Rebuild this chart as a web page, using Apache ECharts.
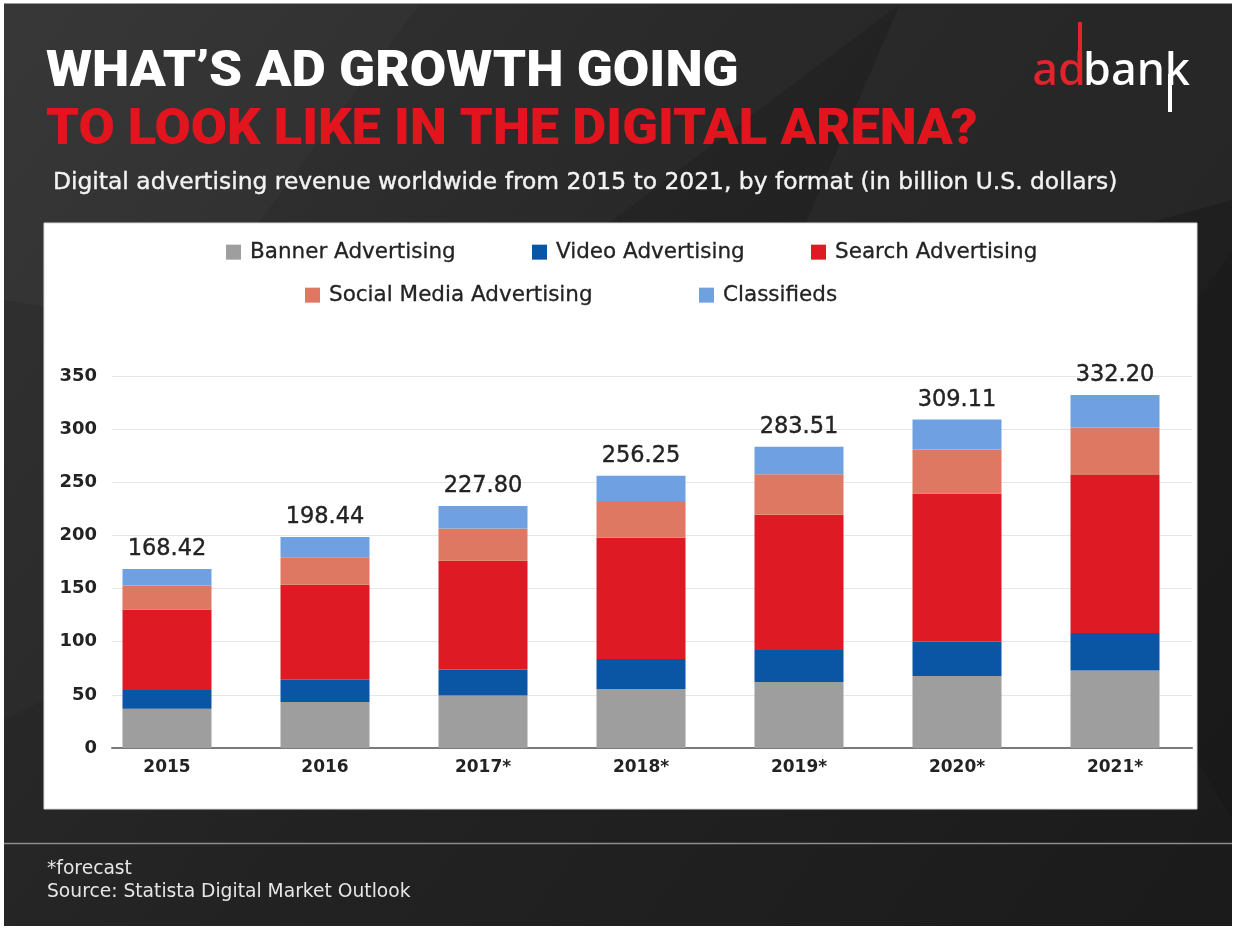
<!DOCTYPE html>
<html>
<head>
<meta charset="utf-8">
<script src="https://cdn.jsdelivr.net/npm/echarts@6/dist/echarts.min.js"></script>
<style>
  html, body { margin: 0; padding: 0; background: #ffffff; }
  #chart { position: absolute; left: 0; top: 0; width: 1236px; height: 928px; }
</style>
</head>
<body>
<div id="chart"></div>
<script>
// Digital advertising revenue worldwide by format, billion U.S. dollars
const years = ['2015', '2016', '2017*', '2018*', '2019*', '2020*', '2021*'];
const banner      = [37.00, 43.20, 49.50, 55.40, 62.00, 67.80, 72.90];
const video       = [17.50, 20.90, 24.30, 28.30, 30.20, 32.50, 35.30];
const search      = [75.90, 89.40, 102.40, 114.20, 127.30, 139.20, 148.70];
const social      = [22.42, 26.00, 30.30, 34.60, 38.00, 41.30, 44.70];
const classifieds = [15.60, 18.94, 21.30, 23.75, 26.01, 28.31, 30.60];
const totals      = [168.42, 198.44, 227.80, 256.25, 283.51, 309.11, 332.20];

const seriesNames = ['Banner Advertising', 'Video Advertising', 'Search Advertising',
                     'Social Media Advertising', 'Classifieds'];
const seriesColors = ['#9e9e9e', '#0b55a5', '#de1b25', '#df7862', '#6fa1e2'];
const seriesData = [banner, video, search, social, classifieds];

const yMin = 0, yMax = 350, yStep = 50;

const HEAD = "Roboto, sans-serif";
const BODY = "'DejaVu Sans', 'Noto Sans', sans-serif";
const INK = '#232323';

const chart = echarts.init(document.getElementById('chart'), null, { renderer: 'canvas' });

// one legend per entry so every swatch sits at its own spot
const legendSpots = [
  { left: 226, top: 241 }, { left: 532, top: 241 }, { left: 811, top: 241 },
  { left: 305, top: 284 }, { left: 699, top: 284 }
];
const legends = seriesNames.map((name, i) => ({
  data: [name],
  left: legendSpots[i].left,
  top: legendSpots[i].top,
  padding: 0,
  icon: 'rect',
  itemWidth: 15,
  itemHeight: 15,
  selectedMode: false,
  textStyle: { fontFamily: BODY, fontSize: 21.5, fontWeight: 'normal', color: INK,
               padding: [0, 0, 0, 4], textBorderColor: INK, textBorderWidth: 0.3 }
}));

const series = seriesNames.map((name, i) => ({
  name: name,
  type: 'bar',
  stack: 'revenue',
  xAxisIndex: 1,
  yAxisIndex: 1,
  barWidth: 89,
  itemStyle: { color: seriesColors[i] },
  emphasis: { disabled: true },
  data: seriesData[i],
  label: i === seriesNames.length - 1 ? {
    show: true,
    position: 'top',
    distance: 8,
    fontFamily: BODY,
    fontSize: 22.5,
    fontWeight: 'normal',
    color: INK,
    textBorderColor: INK,
    textBorderWidth: 0.4,
    formatter: p => totals[p.dataIndex].toFixed(2)
  } : { show: false }
}));

// faint facets in the dark backdrop
const facets = [
  [[4, 4], [420, 4], [180, 330], [4, 300]],
  [[420, 4], [900, 4], [560, 260], [180, 330]],
  [[900, 4], [1232, 4], [1232, 200], [760, 330]],
  [[4, 300], [180, 330], [44, 700], [4, 720]],
  [[1197, 300], [1232, 250], [1232, 820], [1197, 760]]
];
const facetFills = ['rgba(255,255,255,0.045)', 'rgba(255,255,255,0.025)',
                    'rgba(255,255,255,0.03)', 'rgba(255,255,255,0.02)', 'rgba(0,0,0,0.08)'];

const graphics = [
  { type: 'rect', z: -20, shape: { x: 4, y: 4, width: 1228, height: 922 },
    style: { fill: new echarts.graphic.LinearGradient(0, 0, 1, 1, [
      { offset: 0, color: '#2e2e2e' }, { offset: 0.5, color: '#222222' }, { offset: 1, color: '#1b1b1b' }
    ]) } },
  ...facets.map((pts, i) => ({ type: 'polygon', z: -19, shape: { points: pts }, style: { fill: facetFills[i] } })),
  { type: 'line', z: -18, shape: { x1: 4, y1: 3.5, x2: 1232, y2: 3.5 }, style: { stroke: '#9a9a9a', lineWidth: 1 } },
  // white panel behind the plot
  { type: 'rect', z: -15, shape: { x: 44, y: 223, width: 1153, height: 586 },
    style: { fill: '#ffffff', stroke: '#d8d8d8', lineWidth: 1 } },
  // footer rule
  { type: 'line', z: -15, shape: { x1: 4, y1: 843.5, x2: 1232, y2: 843.5 }, style: { stroke: '#8c8c8c', lineWidth: 1.5 } },
  // headline, widened a little to a broad display look
  { type: 'text', x: 46, y: 73, scaleX: 1.06, style: { text: 'WHAT\u2019S AD GROWTH GOING', fill: '#ffffff',
      fontFamily: HEAD, fontWeight: 900, fontSize: 50, align: 'left', verticalAlign: 'middle' } },
  { type: 'text', x: 46, y: 131, scaleX: 1.05, style: { text: 'TO LOOK LIKE IN THE DIGITAL ARENA?', fill: '#e2151f',
      fontFamily: HEAD, fontWeight: 900, fontSize: 50, align: 'left', verticalAlign: 'middle' } },
  { type: 'text', x: 53, y: 183, style: { text: 'Digital advertising revenue worldwide from 2015 to 2021, by format (in billion U.S. dollars)',
      fill: '#f2f2f2', fontFamily: BODY, fontSize: 23.4, align: 'left', verticalAlign: 'middle',
      stroke: '#f2f2f2', lineWidth: 0.4 } },
  // footnotes
  { type: 'text', x: 47, y: 869, style: { text: '*forecast', fill: '#e6e6e6',
      fontFamily: BODY, fontSize: 18.7, align: 'left', verticalAlign: 'middle' } },
  { type: 'text', x: 47, y: 892, style: { text: 'Source: Statista Digital Market Outlook', fill: '#e6e6e6',
      fontFamily: BODY, fontSize: 18.7, align: 'left', verticalAlign: 'middle' } },
  // brand mark
  { type: 'text', x: 1086, y: 72, style: { text: 'ad', fill: '#e1232b',
      fontFamily: "'Noto Sans', sans-serif", fontWeight: 500, fontSize: 45, align: 'right', verticalAlign: 'middle' } },
  { type: 'text', x: 1083, y: 72, style: { text: 'bank', fill: '#ffffff',
      fontFamily: "'Noto Sans', sans-serif", fontWeight: 500, fontSize: 45, align: 'left', verticalAlign: 'middle' } },
  { type: 'line', shape: { x1: 1080, y1: 22, x2: 1080, y2: 54 }, style: { stroke: '#e1232b', lineWidth: 4 } },
  { type: 'line', shape: { x1: 1170, y1: 74, x2: 1170, y2: 112 }, style: { stroke: '#ffffff', lineWidth: 4 } }
];

chart.setOption({
  animation: false,
  backgroundColor: 'transparent',
  legend: legends,
  grid: [
    { left: 112, top: 376, width: 1080, height: 372, containLabel: false },
    { left: 88, top: 376, width: 1106, height: 372, containLabel: false }
  ],
  xAxis: [
    { gridIndex: 0, type: 'value', min: 0, max: 1, axisLabel: { show: false }, axisTick: { show: false },
      splitLine: { show: false }, axisLine: { show: true, lineStyle: { color: '#7a7a7a', width: 2 } } },
    { gridIndex: 1, type: 'category', data: years, axisLine: { show: false }, axisTick: { show: false },
      axisLabel: { margin: 11, fontFamily: BODY, fontSize: 17, fontWeight: 'bold', color: INK } }
  ],
  yAxis: [
    { gridIndex: 0, type: 'value', min: yMin, max: yMax, interval: yStep,
      axisLine: { show: false }, axisTick: { show: false },
      axisLabel: { margin: 15, fontFamily: BODY, fontSize: 18, fontWeight: 'bold', color: INK },
      splitLine: { lineStyle: { color: '#e6e6e6', width: 1 } } },
    { gridIndex: 1, type: 'value', min: yMin, max: yMax, interval: yStep, show: false,
      splitLine: { show: false } }
  ],
  graphic: graphics,
  series: series
});
</script>
</body>
</html>
